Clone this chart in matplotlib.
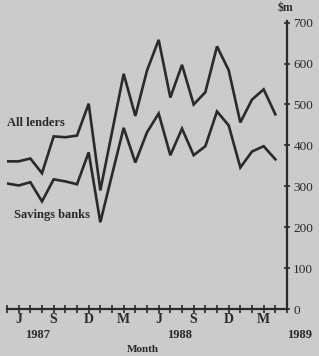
import matplotlib.pyplot as plt
from matplotlib.transforms import blended_transform_factory

# Monthly lending, $m, May 1987 .. April 1989
all_lenders = [361, 361, 368, 332, 422, 420, 424, 502, 290, 432, 575, 472,
               583, 658, 517, 597, 500, 530, 642, 584, 456, 512, 537, 476]
savings_banks = [307, 302, 310, 263, 317, 312, 305, 383, 212, 328, 443, 358,
                 432, 478, 376, 441, 376, 398, 483, 449, 346, 385, 398, 366]

quarter_labels = ["J", "S", "D", "M", "J", "S", "D", "M"]
years = ["1987", "1988", "1989"]
year_pos = [2.6, 14.8, 25.1]
y_ticks = [0, 100, 200, 300, 400, 500, 600, 700]

bg = "#cbcbcb"
ink = "#2a2a2a"
plt.rcParams["font.family"] = ["Liberation Serif", "DejaVu Serif"]

fig = plt.figure(figsize=(3.19, 3.56), dpi=100, facecolor=bg)
W, H = 319, 356
ax = fig.add_axes([7 / W, (H - 309) / H, (287 - 7) / W, (309 - 22.7) / H])
ax.set_facecolor(bg)

months = list(range(len(all_lenders)))
ax.plot(months, all_lenders, color=ink, lw=1.9, solid_joinstyle="miter")
ax.plot(months, savings_banks, color=ink, lw=1.9, solid_joinstyle="miter")

ax.set_xlim(0, 24)
ax.set_ylim(0, 700)

for s in ["left", "top"]:
    ax.spines[s].set_visible(False)
for s in ["right", "bottom"]:
    ax.spines[s].set_color(ink)
    ax.spines[s].set_linewidth(1.6)
ax.spines["right"].set_bounds(0, 705)

ax.yaxis.tick_right()
ax.set_yticks(y_ticks)
ax.set_yticklabels([str(v) for v in y_ticks])
ax.tick_params(axis="y", direction="inout", length=5, width=1.2, color=ink,
               labelsize=9.5, labelcolor=ink, pad=2)

ax.set_xticks(range(1, 24, 3))
ax.set_xticks([i for i in range(0, 25) if (i - 1) % 3 != 0], minor=True)
ax.set_xticklabels(quarter_labels, fontweight="bold")
ax.tick_params(axis="x", which="both", direction="inout", length=6, width=1.2,
               color=ink, labelsize=10, labelcolor=ink, pad=0)

trans = blended_transform_factory(ax.transData, fig.transFigure)
for lab, xp in zip(years, year_pos):
    ax.text(xp, (H - 335) / H, lab, transform=trans, ha="center", va="center",
            fontsize=9, color=ink, fontweight="bold")
fig.text(143 / W, (H - 350) / H, "Month", ha="center", va="center",
         fontsize=8, color=ink, fontweight="bold")
fig.text(285 / W, (H - 8) / H, r"\$m", ha="center", va="center",
         fontsize=8.5, color=ink, fontweight="bold")

fig.text(36 / W, (H - 123) / H, "All lenders", ha="center", va="center",
         fontsize=9, color=ink, fontweight="bold")
fig.text(52 / W, (H - 215) / H, "Savings banks", ha="center", va="center",
         fontsize=9, color=ink, fontweight="bold")

fig.savefig("out.png", dpi=100, facecolor=bg)
